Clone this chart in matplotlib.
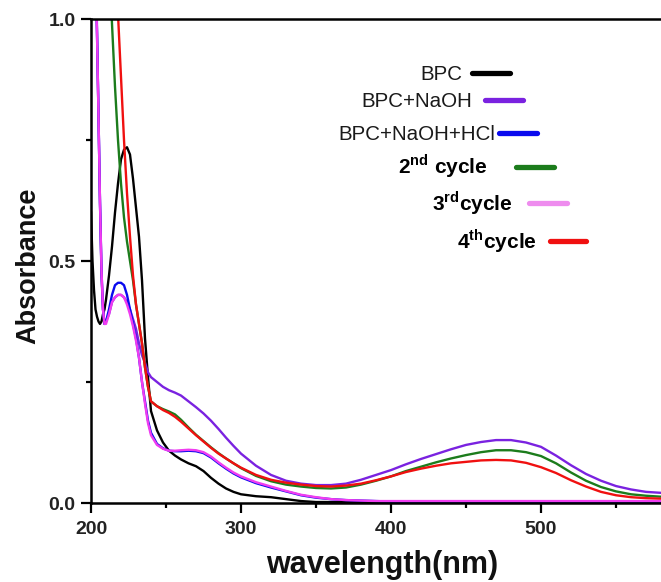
import matplotlib
matplotlib.use("Agg")
import matplotlib.pyplot as plt
from matplotlib.lines import Line2D

plt.rcParams["font.family"] = ["Liberation Sans", "DejaVu Sans"]
plt.rcParams["mathtext.fontset"] = "custom"
plt.rcParams["mathtext.rm"] = "Liberation Sans"
plt.rcParams["mathtext.bf"] = "Liberation Sans:bold"

# ---- data: UV-vis spectra ----
wavelength = [200, 201, 202, 203, 204, 205, 206, 207, 208, 209, 210,
              212, 214, 216, 218, 220, 222, 224, 226, 228, 230, 232, 234, 236, 238, 240,
              244, 248, 252, 256, 260,
              265, 270, 275, 280, 285, 290, 295, 300,
              310, 320, 330, 340, 350, 360, 370, 380, 390, 400, 410, 420, 430, 440,
              450, 460, 470, 480, 490, 500, 510, 520, 530, 540, 550, 560, 570, 580]

bpc = [0.60, 0.50, 0.44, 0.40, 0.385, 0.375, 0.37, 0.375, 0.39, 0.40, 0.42,
       0.47, 0.53, 0.60, 0.66, 0.71, 0.73, 0.735, 0.72, 0.67, 0.61, 0.55, 0.46, 0.34, 0.26, 0.19,
       0.15, 0.125, 0.108, 0.098, 0.090,
       0.082, 0.076, 0.066, 0.052, 0.040, 0.030, 0.023, 0.018,
       0.014, 0.012, 0.008, 0.004, 0.002, 0.002, 0.002, 0.002, 0.002, 0.002, 0.002, 0.002, 0.002, 0.002,
       0.002, 0.002, 0.002, 0.002, 0.002, 0.002, 0.002, 0.002, 0.002, 0.002, 0.002, 0.002, 0.002, 0.002]

bpc_naoh = [1.80, 1.60, 1.40, 1.18, 0.98, 0.80, 0.62, 0.47, 0.40, 0.37, 0.375,
            0.39, 0.415, 0.425, 0.43, 0.43, 0.425, 0.415, 0.40, 0.38, 0.36, 0.33, 0.305, 0.29, 0.27, 0.26,
            0.25, 0.24, 0.233, 0.228, 0.222,
            0.210, 0.198, 0.185, 0.170, 0.153, 0.135, 0.118, 0.102,
            0.077, 0.058, 0.046, 0.040, 0.037, 0.037, 0.040, 0.048, 0.058, 0.068, 0.080, 0.091, 0.101, 0.111,
            0.120, 0.126, 0.130, 0.130, 0.125, 0.116, 0.098, 0.078, 0.060, 0.046, 0.035, 0.028, 0.023, 0.021]

bpc_naoh_hcl = [1.70, 1.50, 1.30, 1.12, 0.97, 0.80, 0.62, 0.48, 0.40, 0.37, 0.375,
                0.40, 0.43, 0.45, 0.455, 0.455, 0.45, 0.43, 0.40, 0.37, 0.34, 0.30, 0.25, 0.21, 0.17, 0.145,
                0.122, 0.113, 0.108, 0.107, 0.107,
                0.108, 0.107, 0.103, 0.094, 0.082, 0.071, 0.061, 0.053,
                0.041, 0.032, 0.024, 0.016, 0.011, 0.008, 0.006, 0.005, 0.004, 0.003, 0.003, 0.003, 0.003, 0.003,
                0.003, 0.003, 0.003, 0.003, 0.003, 0.003, 0.003, 0.003, 0.003, 0.003, 0.003, 0.003, 0.003, 0.003]

cycle2 = [2.20, 2.10, 2.00, 1.90, 1.80, 1.70, 1.60, 1.50, 1.42, 1.35, 1.28,
          1.13, 0.99, 0.86, 0.75, 0.66, 0.59, 0.54, 0.50, 0.46, 0.41, 0.37, 0.33, 0.28, 0.24, 0.21,
          0.200, 0.194, 0.189, 0.183, 0.172,
          0.156, 0.141, 0.128, 0.115, 0.103, 0.092, 0.082, 0.072,
          0.056, 0.045, 0.038, 0.034, 0.031, 0.030, 0.032, 0.038, 0.046, 0.055, 0.066, 0.075, 0.084, 0.092,
          0.099, 0.105, 0.109, 0.109, 0.105, 0.097, 0.082, 0.063, 0.046, 0.033, 0.024, 0.018, 0.015, 0.013]

cycle3 = [1.70, 1.50, 1.30, 1.12, 0.97, 0.80, 0.62, 0.48, 0.40, 0.37, 0.37,
          0.39, 0.415, 0.425, 0.43, 0.43, 0.425, 0.41, 0.39, 0.365, 0.335, 0.30, 0.25, 0.205, 0.165, 0.14,
          0.120, 0.112, 0.108, 0.108, 0.109,
          0.110, 0.109, 0.105, 0.096, 0.084, 0.073, 0.063, 0.055,
          0.043, 0.034, 0.025, 0.017, 0.012, 0.008, 0.006, 0.005, 0.004, 0.004, 0.004, 0.004, 0.004, 0.004,
          0.004, 0.004, 0.004, 0.004, 0.004, 0.004, 0.004, 0.004, 0.004, 0.004, 0.004, 0.004, 0.004, 0.004]

cycle4 = [2.40, 2.30, 2.20, 2.10, 2.00, 1.90, 1.80, 1.72, 1.65, 1.58, 1.52,
          1.40, 1.28, 1.15, 1.01, 0.88, 0.75, 0.64, 0.55, 0.47, 0.41, 0.37, 0.33, 0.28, 0.24, 0.21,
          0.200, 0.192, 0.186, 0.178, 0.168,
          0.154, 0.140, 0.127, 0.114, 0.102, 0.092, 0.082, 0.073,
          0.058, 0.048, 0.042, 0.038, 0.035, 0.034, 0.036, 0.040, 0.047, 0.055, 0.064, 0.071, 0.077, 0.082,
          0.085, 0.088, 0.089, 0.088, 0.083, 0.074, 0.062, 0.047, 0.034, 0.023, 0.016, 0.012, 0.010, 0.009]

series_labels = ["BPC", "BPC+NaOH", "BPC+NaOH+HCl",
                 r"2$^{\mathbf{nd}}$ cycle", r"3$^{\mathbf{rd}}$cycle", r"4$^{\mathbf{th}}$cycle"]
series_values = [bpc, bpc_naoh, bpc_naoh_hcl, cycle2, cycle3, cycle4]
line_colors = ["#000000", "#7a22e0", "#0a0aee", "#1c7c1c", "#f03cf0", "#f01010"]
key_colors = ["#000000", "#7a22e0", "#0a0aee", "#1c7c1c", "#ee8cee", "#f01010"]

x_ticks = [200, 300, 400, 500]
y_ticks = [0.0, 0.5, 1.0]

# ---- figure ----
fig = plt.figure(figsize=(6.61, 5.82), dpi=100)
ax = fig.add_axes([91 / 661, 79 / 582, 570 / 661, 484 / 582])

for vals, col in zip(series_values, line_colors):
    ax.plot(wavelength, vals, color=col, lw=1.7, solid_joinstyle="round")

ax.set_xlim(200, 580)
ax.set_ylim(0.0, 1.0)

ax.set_xticks(x_ticks)
ax.set_xticks([250, 350, 450, 550], minor=True)
ax.set_yticks(y_ticks)
ax.set_yticks([0.25, 0.75], minor=True)
ax.set_yticklabels([f"{v:.1f}" for v in y_ticks])

for s in ["left", "bottom", "top"]:
    ax.spines[s].set_linewidth(1.8)
ax.spines["right"].set_visible(False)

ax.tick_params(which="major", direction="out", length=7, width=1.6,
               labelsize=14)
ax.tick_params(axis="x", which="major", pad=6)
ax.tick_params(axis="y", which="major", pad=4)
ax.tick_params(which="minor", direction="out", length=3.5, width=1.6)
for lab in ax.get_xticklabels() + ax.get_yticklabels():
    lab.set_fontweight("bold")
    lab.set_color("#222222")

ax.set_xlabel("wavelength(nm)", fontsize=22, fontweight="bold", color="#111111")
ax.xaxis.set_label_coords(0.51, -0.097)
ax.set_ylabel("Absorbance", fontsize=19.5, fontweight="bold", color="#111111")
ax.yaxis.set_label_coords(-0.088, 0.49)

# ---- staggered key: right-aligned text followed by a colour bar ----
key_layout = [  # text right x, text baseline y, bar x0, bar x1, bar y (axes fraction)
    (0.651, 0.874, 0.668, 0.735, 0.888),
    (0.668, 0.819, 0.691, 0.758, 0.833),
    (0.709, 0.751, 0.716, 0.782, 0.764),
    (0.696, 0.681, 0.746, 0.812, 0.694),
    (0.740, 0.605, 0.768, 0.835, 0.620),
    (0.782, 0.526, 0.805, 0.868, 0.541),
]
for i, (lab, col, (tx, ty, bx0, bx1, by)) in enumerate(zip(series_labels, key_colors, key_layout)):
    heavy = i >= 3
    ax.text(tx, ty, lab, transform=ax.transAxes, ha="right", va="baseline",
            fontsize=15 if heavy else 14.8, fontweight="bold" if heavy else "normal",
            color="#000000" if heavy else "#1a1a1a")
    ax.add_line(Line2D([bx0, bx1], [by, by], transform=ax.transAxes, color=col,
                       lw=3.8, solid_capstyle="round", clip_on=False))

fig.savefig("out.png", dpi=100)
